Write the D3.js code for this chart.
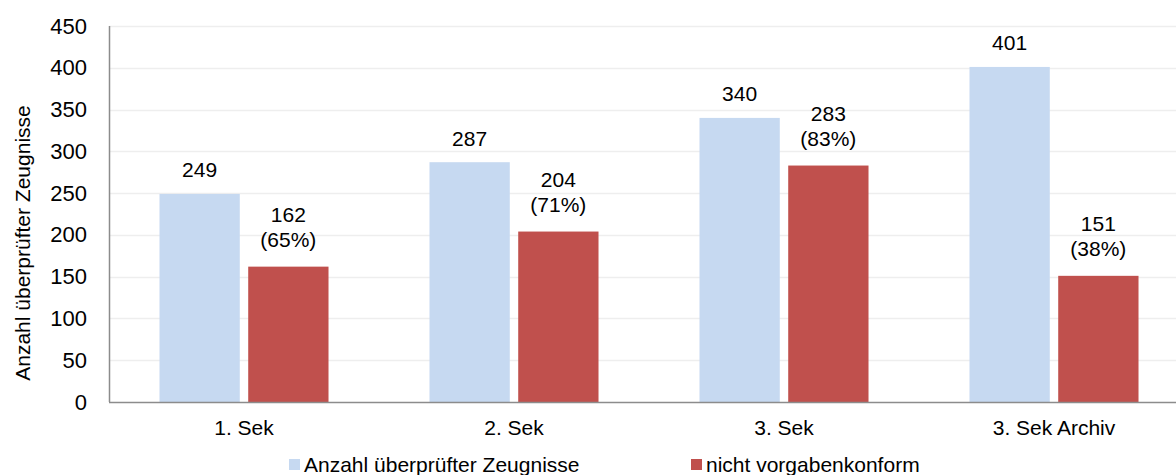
<!DOCTYPE html>
<html>
<head>
<meta charset="utf-8">
<script src="https://cdn.jsdelivr.net/npm/d3@7/dist/d3.min.js"></script>
<style>
  html, body { margin: 0; padding: 0; background: #fff; }
  svg { display: block; font-family: "Liberation Sans", Arial, sans-serif; }
</style>
</head>
<body>
<svg id="chart" width="1176" height="475"></svg>
<script>
const categories = ["1. Sek", "2. Sek", "3. Sek", "3. Sek Archiv"];
const seriesNames = ["Anzahl überprüfter Zeugnisse", "nicht vorgabenkonform"];
const checkedValues = [249, 287, 340, 401];
const nonConformValues = [162, 204, 283, 151];
const nonConformPct = ["65%", "71%", "83%", "38%"];
const yTicks = [0, 50, 100, 150, 200, 250, 300, 350, 400, 450];
const colors = ["#c6d9f1", "#c0504d"];
const yTitle = "Anzahl überprüfter Zeugnisse";

(function () {
const svg = d3.select("#chart");
const pLeft = 109, pRight = 1189, pTop = 26, pBottom = 402;

const y = d3.scaleLinear().domain([0, 450]).range([pBottom, pTop]);
const x0 = d3.scaleBand().domain(categories).range([pLeft, pRight])
  .paddingInner(0.374).paddingOuter(0.187);
const x1 = d3.scaleBand().domain(seriesNames).range([0, x0.bandwidth()])
  .paddingInner(0.095);

// gridlines
svg.append("g").selectAll("line").data(yTicks.filter(d => d > 0)).join("line")
  .attr("x1", pLeft).attr("x2", 1176)
  .attr("y1", d => Math.round(y(d)) + 0.5).attr("y2", d => Math.round(y(d)) + 0.5)
  .attr("stroke", "#eeeeee").attr("stroke-width", 1.5);

// y axis
const yAxis = svg.append("g").attr("transform", `translate(${pLeft},0)`)
  .call(d3.axisLeft(y).tickValues(yTicks).tickSize(0).tickPadding(22));
yAxis.select(".domain").remove();
yAxis.selectAll("text").attr("font-size", 22).attr("fill", "#000")
  .attr("font-family", "Liberation Sans, Arial, sans-serif");
svg.append("line").attr("x1", pLeft + 0.5).attr("x2", pLeft + 0.5)
  .attr("y1", pTop).attr("y2", pBottom).attr("stroke", "#8c8c8c").attr("stroke-width", 1.5);

// bars
const rows = categories.map((c, i) => ({ cat: c, vals: [checkedValues[i], nonConformValues[i]], pct: nonConformPct[i] }));
const groups = svg.append("g").selectAll("g").data(rows).join("g")
  .attr("transform", d => `translate(${x0(d.cat)},0)`);
groups.selectAll("rect").data(d => d.vals.map((v, j) => ({ s: seriesNames[j], v, j })))
  .join("rect")
  .attr("x", d => x1(d.s)).attr("width", x1.bandwidth())
  .attr("y", d => y(d.v)).attr("height", d => y(0) - y(d.v))
  .attr("fill", d => colors[d.j]);

// x axis
svg.append("line").attr("x1", pLeft).attr("x2", 1176)
  .attr("y1", pBottom + 0.5).attr("y2", pBottom + 0.5).attr("stroke", "#8c8c8c").attr("stroke-width", 1.5);
const xAxis = svg.append("g").attr("transform", `translate(0,${pBottom})`)
  .call(d3.axisBottom(x0).tickSize(0).tickPadding(18));
xAxis.select(".domain").remove();
xAxis.selectAll("text").attr("font-size", 21).attr("fill", "#000")
  .attr("font-family", "Liberation Sans, Arial, sans-serif");

// value labels
groups.each(function(d) {
  const g = d3.select(this);
  const bx = x1(seriesNames[0]) + x1.bandwidth() / 2;
  g.append("text").attr("x", bx).attr("y", y(d.vals[0]) - 16.5)
    .attr("text-anchor", "middle").attr("font-size", 21).attr("fill", "#000")
    .text(d.vals[0]);
  const rx = x1(seriesNames[1]) + x1.bandwidth() / 2;
  g.append("text").attr("x", rx).attr("y", y(d.vals[1]) - 45)
    .attr("text-anchor", "middle").attr("font-size", 21).attr("fill", "#000")
    .text(d.vals[1]);
  g.append("text").attr("x", rx).attr("y", y(d.vals[1]) - 20)
    .attr("text-anchor", "middle").attr("font-size", 21).attr("fill", "#000")
    .text(`(${d.pct})`);
});

// y title
svg.append("text").attr("transform", "translate(30,243) rotate(-90)")
  .attr("text-anchor", "middle").attr("font-size", 21).attr("fill", "#000")
  .text(yTitle);

// legend
const legendX = [289, 691];
const lg = svg.append("g").selectAll("g").data(seriesNames).join("g")
  .attr("transform", (d, i) => `translate(${legendX[i]},0)`);
lg.append("rect").attr("x", 0).attr("y", 459).attr("width", 11).attr("height", 11)
  .attr("fill", (d, i) => colors[i]);
lg.append("text").attr("x", 15).attr("y", 472).attr("font-size", 21).attr("fill", "#000")
  .text(d => d);
})();
</script>
</body>
</html>
